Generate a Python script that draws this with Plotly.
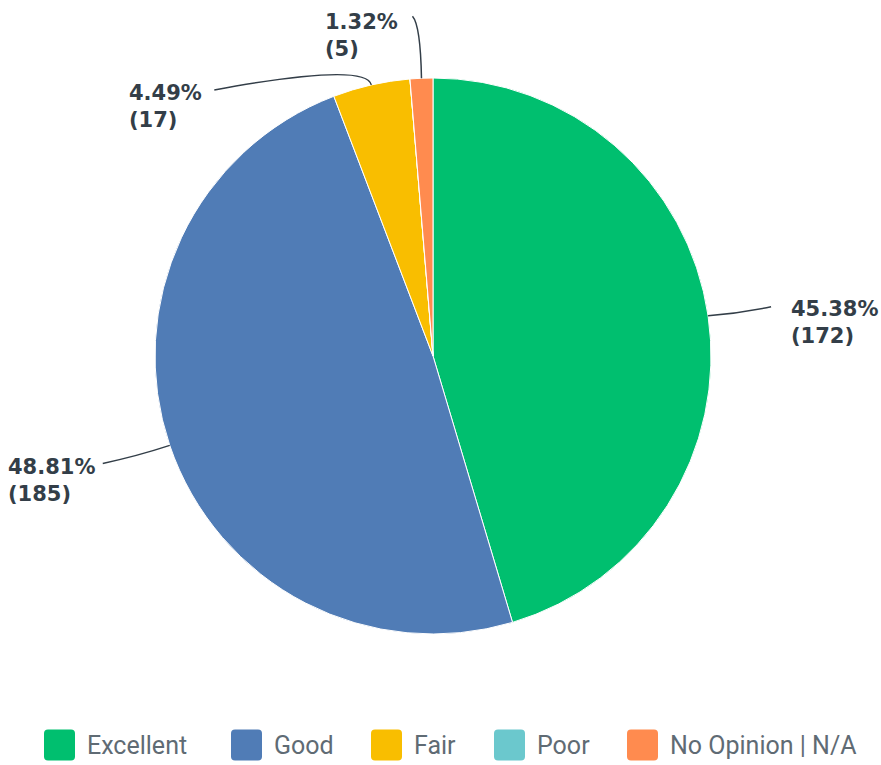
import math
import plotly.graph_objects as go

# ---- data ----
categories = ["Excellent", "Good", "Fair", "Poor", "No Opinion | N/A"]
counts = [172, 185, 17, 0, 5]
colors = ["#00BF6F", "#507CB6", "#F9BE00", "#6BC8CD", "#FF8B4F"]

# ---- layout constants (page pixels) ----
W, H = 881, 765
CX, CY, R = 433, 356, 278

def px(x):
    return x / W

def py(y):
    return 1 - y / H

# label placement offsets relative to slice edge point (dx, dy in pixels)
# (elbow or None, line end, label anchor, xanchor)
label_layout = {
    "Excellent": (None, (63, -9), (81, 7), "left"),
    "Good": (None, (-67, 18), (-73, 35), "right"),
    "Fair": ((-5, -23), (-157, 5), (-167, 22), "right"),
    "No Opinion | N/A": ((-1, -53), (-9, -62), (-21, -43), "right"),
}

total = sum(counts)

fig = go.Figure()
fig.add_trace(go.Pie(
    labels=categories,
    values=counts,
    marker=dict(colors=colors, line=dict(color="white", width=1)),
    sort=False,
    direction="clockwise",
    rotation=0,
    textinfo="none",
    hoverinfo="label+value+percent",
    showlegend=False,
    domain=dict(x=[px(CX - R), px(CX + R)], y=[py(CY + R), py(CY - R)]),
))

shapes = []
annotations = []
cum = 0
for cat, v in zip(categories, counts):
    if v == 0:
        cum += v
        continue
    mid = (cum + v / 2) / total
    cum += v
    ang = mid * 2 * math.pi
    ex = CX + R * math.sin(ang)
    ey = CY - R * math.cos(ang)
    elbow, end, anchor, xanchor = label_layout[cat]
    x1, y1 = ex + end[0], ey + end[1]
    if elbow is None:
        mx, my = (ex + x1) / 2, (ey + y1) / 2 + 2
        path = f"M{px(ex)},{py(ey)} Q{px(mx)},{py(my)} {px(x1)},{py(y1)}"
    else:
        bx, by = ex + elbow[0], ey + elbow[1]
        path = f"M{px(ex)},{py(ey)} Q{px(bx)},{py(by)} {px(x1)},{py(y1)}"
    shapes.append(dict(type="path", xref="paper", yref="paper", path=path,
                       line=dict(color="#333e48", width=1.5)))
    pct = v / total * 100
    annotations.append(dict(
        x=px(ex + anchor[0]), y=py(ey + anchor[1]), xref="paper", yref="paper",
        text=f"{pct:.2f}%<br>({v})", showarrow=False,
        xanchor=xanchor, yanchor="middle", align="left",
        font=dict(family="DejaVu Sans", size=21, color="#333e48", weight="bold"),
    ))

# custom legend (large rounded swatches)
legend_x = [44, 231, 371, 494, 627]
sw = 31
ly = 745
rad = 4
for cat, col, lx in zip(categories, colors, legend_x):
    x0, x1 = lx, lx + sw
    y0, y1 = ly - sw / 2, ly + sw / 2
    p = (f"M{px(x0 + rad)},{py(y0)} L{px(x1 - rad)},{py(y0)} "
         f"Q{px(x1)},{py(y0)} {px(x1)},{py(y0 + rad)} "
         f"L{px(x1)},{py(y1 - rad)} Q{px(x1)},{py(y1)} {px(x1 - rad)},{py(y1)} "
         f"L{px(x0 + rad)},{py(y1)} Q{px(x0)},{py(y1)} {px(x0)},{py(y1 - rad)} "
         f"L{px(x0)},{py(y0 + rad)} Q{px(x0)},{py(y0)} {px(x0 + rad)},{py(y0)} Z")
    shapes.append(dict(type="path", xref="paper", yref="paper", path=p,
                       fillcolor=col, line=dict(width=0)))
    annotations.append(dict(
        x=px(x1 + 10), y=py(ly), xref="paper", yref="paper",
        text=cat, showarrow=False, xanchor="left", yanchor="middle",
        font=dict(family="Roboto", size=25, color="#5f6b74"),
    ))

fig.update_layout(
    width=W, height=H,
    margin=dict(l=0, r=0, t=0, b=0),
    paper_bgcolor="white",
    plot_bgcolor="white",
    shapes=shapes,
    annotations=annotations,
)

fig.write_html(
    "out.html",
    config={"displayModeBar": False},
    post_script="document.body.style.margin='0';document.body.style.overflow='hidden';",
)
